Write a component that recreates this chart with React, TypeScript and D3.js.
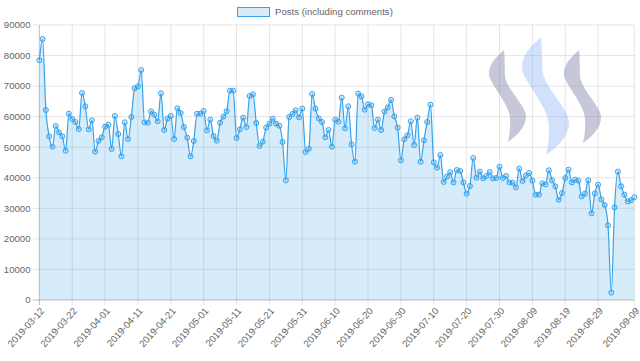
import React from 'react';
import * as d3 from 'd3';

// daily post counts, 2019-03-12 .. 2019-09-09
const startDate = new Date(2019, 2, 12);
const posts = [
  78450, 85400, 62180, 53570, 50180, 56950, 54870, 53570, 48870, 60980,
  59240, 58250, 55960, 67750, 63390, 55850, 58800, 48540, 52040, 53250,
  56720, 57380, 49420, 60220, 54330, 47020, 58150, 52690, 59890, 69280,
  69930, 75270, 58150, 58030, 61750, 60640, 58480, 67640, 55640, 59340,
  60220, 52690, 62740, 61200, 56620, 53140, 47020, 52040, 60980, 60980,
  61850, 55530, 59020, 53670, 52150, 58030, 59990, 61750, 68510, 68510,
  53020, 55850, 59670, 56620, 66760, 67310, 57930, 50400, 51830, 56390,
  57710, 59340, 57710, 57050, 51710, 39170, 59890, 60870, 62070, 59780,
  62630, 48440, 49530, 67420, 62630, 59450, 58250, 53250, 55640, 50180,
  59020, 58370, 66210, 56170, 63390, 50940, 45270, 67530, 66640, 62290,
  64040, 63720, 56290, 59020, 55640, 61630, 63040, 65450, 60100, 56390,
  45710, 52580, 53890, 58480, 50730, 59670, 45270, 52250, 58250, 63930,
  45060, 43310, 47450, 38620, 40370, 41790, 38510, 42550, 42220, 38510,
  34800, 37310, 46470, 40040, 42000, 39820, 40580, 41890, 39820, 39930,
  43640, 39930, 40580, 38510, 38400, 36870, 42980, 38950, 40690, 41560,
  39050, 34470, 34470, 38180, 37850, 42440, 39160, 37200, 32830, 35020,
  39930, 42650, 38510, 39380, 39050, 33930, 34800, 39160, 28360, 34910,
  37740, 32940, 31090, 24440, 2400, 30330, 42000, 37200, 34470, 32290,
  32620, 33600,
];
const yTicks = [0, 10000, 20000, 30000, 40000, 50000, 60000, 70000, 80000, 90000];
const xTickLabels = [
  '2019-03-12', '2019-03-22', '2019-04-01', '2019-04-11', '2019-04-21', '2019-05-01',
  '2019-05-11', '2019-05-21', '2019-05-31', '2019-06-10', '2019-06-20', '2019-06-30',
  '2019-07-10', '2019-07-20', '2019-07-30', '2019-08-09', '2019-08-19', '2019-08-29',
  '2019-09-09',
];
const seriesName = 'Posts (including comments)';

const W = 640;
const H = 361;
const left = 39.3;
const right = 634.3;
const top = 25;
const bottom = 300;
const font = "'Liberation Sans', Arial, sans-serif";
const blue = 'rgb(54,162,235)';
const blueFill = 'rgba(54,162,235,0.2)';

// steem logo watermark, normalised s-stroke
const sPath =
  'M0.41,0 C0.18,0.08 0,0.15 0,0.26 C0,0.36 0.55,0.58 0.57,0.74 C0.58,0.84 0.56,0.93 0.51,1 ' +
  'C0.8,0.92 1,0.83 1,0.72 C1,0.6 0.43,0.42 0.43,0.26 C0.43,0.16 0.42,0.08 0.41,0 Z';

const App = () => {
  const dates = posts.map((_, i) => d3.timeDay.offset(startDate, i));
  const fmt = d3.timeFormat('%Y-%m-%d');
  const x = d3.scaleTime().domain([dates[0], dates[dates.length - 1]]).range([left, right]);
  const y = d3.scaleLinear().domain([0, 90000]).range([bottom, top]);

  const area = d3.area<number>()
    .x((_, i) => x(dates[i]))
    .y0(y(0))
    .y1(d => y(d))
    .curve(d3.curveMonotoneX);
  const line = d3.line<number>()
    .x((_, i) => x(dates[i]))
    .y(d => y(d))
    .curve(d3.curveMonotoneX);

  const tickDates = xTickLabels.map(l => d3.timeParse('%Y-%m-%d')(l) as Date);

  const logos = [
    { x: 489, y: 50, w: 37, h: 92, fill: 'rgb(120,125,165)', op: 0.42 },
    { x: 522, y: 37, w: 47, h: 118, fill: 'rgb(140,180,245)', op: 0.4 },
    { x: 564, y: 50, w: 37, h: 93, fill: 'rgb(120,125,165)', op: 0.42 },
  ];

  return (
    <svg width={W} height={H} style={{ position: 'absolute', left: 0, top: 0 }} fontFamily={font}>
      <rect width={W} height={H} fill="#fff" />
      {yTicks.map(t => (
        <g key={t}>
          <line x1={33} x2={right} y1={y(t)} y2={y(t)}
            stroke={t === 0 ? 'rgba(0,0,0,0.25)' : 'rgba(0,0,0,0.1)'} />
          <text x={30.5} y={y(t)} dy="0.35em" textAnchor="end" fontSize={9.6} fill="#666">{t}</text>
        </g>
      ))}
      {tickDates.map((d, i) => (
        <g key={i}>
          <line x1={x(d)} x2={x(d)} y1={top} y2={bottom + 5}
            stroke={i === 0 ? 'rgba(0,0,0,0.25)' : 'rgba(0,0,0,0.1)'} />
          <text transform={`translate(${x(d) + 3},${bottom + 9}) rotate(-48)`} textAnchor="end"
            dy="0.35em" fontSize={9.6} fill="#666">{fmt(d)}</text>
        </g>
      ))}
      {logos.map((l, i) => (
        <path key={i} d={sPath} transform={`translate(${l.x},${l.y}) scale(${l.w},${l.h})`}
          fill={l.fill} fillOpacity={l.op} />
      ))}
      <path d={area(posts) || ''} fill={blueFill} />
      <path d={line(posts) || ''} fill="none" stroke={blue} strokeWidth={1.2} />
      {posts.map((v, i) => (
        <circle key={i} cx={x(dates[i])} cy={y(v)} r={2.5} fill={blueFill} stroke={blue} strokeWidth={1} />
      ))}
      <rect x={237.5} y={7.5} width={32} height={9} fill={blueFill} stroke={blue} strokeWidth={1} />
      <text x={275} y={12} dy="0.35em" fontSize={9.6} fill="#666">{seriesName}</text>
    </svg>
  );
};

export default App;
